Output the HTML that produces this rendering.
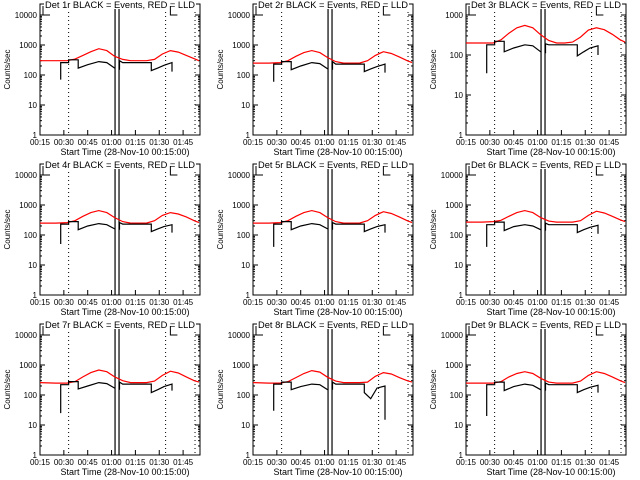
<!DOCTYPE html>
<html><head><meta charset="utf-8">
<style>
html,body{margin:0;padding:0;background:#fff;}
svg{display:block;font-family:"Liberation Sans",sans-serif;}
</style></head>
<body>
<svg id="chart" width="640" height="480" viewBox="0 0 640 480"></svg>
<script>
// ---- data ----
const detectors = ["1r","2r","3r","4r","5r","6r","7r","8r","9r"];
const xTickLabels = ["00:15","00:30","00:45","01:00","01:15","01:30","01:45"];
const xTickMinutes = [0,15,30,45,60,75,90];
const dottedMinutes = [18,79,97.5];
const gapMinutes = [47.2,49.7];
const redTimes = [0,10,17,22,27,32,37,42,47,52,57,62,67,72,77,82,87,92,97,100];
const redValues = [
 [300,300,300,340,450,600,750,650,420,330,300,300,300,330,500,650,580,450,350,300],
 [250,250,260,300,420,560,650,560,380,280,250,250,250,300,450,600,520,400,300,260],
 [200,200,200,240,350,480,550,480,320,230,200,200,210,280,420,480,430,330,240,210],
 [250,250,260,300,420,560,650,560,380,280,250,250,250,300,450,560,500,400,300,260],
 [250,250,260,300,420,560,650,560,380,280,250,250,250,300,450,600,520,400,300,260],
 [270,270,280,310,420,560,650,560,380,290,270,270,270,300,450,620,540,420,320,280],
 [260,250,250,280,400,560,680,600,400,300,260,260,260,290,450,620,540,400,300,270],
 [260,250,250,280,380,520,650,580,390,290,260,260,260,270,420,560,500,380,300,270],
 [250,250,250,280,400,520,600,520,360,270,250,250,250,290,450,600,520,400,300,260]
];
const blackTimes = [13,13,18,18,24,24,30,37,42,47,null,50,50,52,60,70,70,74,78,83,83];
const blackValues = [
 [70,260,260,320,320,170,220,280,260,170,null,150,300,260,260,260,140,170,210,260,130],
 [60,230,230,280,280,150,200,260,240,160,null,150,280,230,230,230,130,160,190,230,120],
 [35,180,180,220,220,120,150,180,170,120,null,110,190,180,180,180,95,120,150,170,100],
 [50,230,230,280,280,150,200,240,220,160,null,150,260,230,230,230,130,160,190,220,120],
 [40,230,230,280,280,150,200,240,220,160,null,150,260,230,230,230,130,160,190,220,120],
 [40,220,220,270,270,140,190,220,200,150,null,140,250,220,220,220,120,150,180,210,110],
 [25,220,220,280,280,160,200,260,240,170,null,150,270,230,230,230,120,150,190,230,140],
 [30,230,230,270,270,150,190,230,220,150,null,150,270,230,230,230,120,75,170,200,15],
 [20,220,220,270,270,140,190,230,210,150,null,140,250,220,220,220,120,150,180,210,120]
];
const yMaxDecades = [4,4,3,4,4,4,4,4,4];

// ---- drawing ----
const NS="http://www.w3.org/2000/svg";
const svg=document.getElementById('chart');
function mk(tag,attrs,parent){const e=document.createElementNS(NS,tag);for(const k in attrs)e.setAttribute(k,attrs[k]);(parent||svg).appendChild(e);return e;}
const PL=40,PR=200,PT=4,PB=135, TMAX=(PR-PL)/1.59;
detectors.forEach((det,i)=>{
  const ox=(i%3)*213, oy=Math.floor(i/3)*160;
  const g=mk('g',{transform:`translate(${ox},${oy})`});
  
  
  const dec=yMaxDecades[i];
  const xs=t=>PL+t*(PR-PL)/TMAX;
  const ys=v=>PB-Math.log10(Math.max(v,1))*(PB-15)/dec;
  // frame
  const fr=mk('rect',{x:PL,y:PT,width:PR-PL,height:PB-PT,fill:'none',stroke:'#000','stroke-width':1},g);
  
  
  // y ticks
  for(let d=0;d<=dec;d++){
    const y=ys(Math.pow(10,d));
    mk('line',{x1:PL,x2:PL+5,y1:y,y2:y,stroke:'#000'},g);
    mk('line',{x1:PR-5,x2:PR,y1:y,y2:y,stroke:'#000'},g);
    if(d<dec)for(let m=2;m<10;m++){const ym=ys(m*Math.pow(10,d));
      mk('line',{x1:PL,x2:PL+2,y1:ym,y2:ym,stroke:'#000'},g);
      mk('line',{x1:PR-2,x2:PR,y1:ym,y2:ym,stroke:'#000'},g);}
    const lb=mk('text',{x:PL-3,y:y+3,'font-size':8,'text-anchor':'end'},g);
    lb.textContent=String(Math.pow(10,d));
    
    
  }
  const yt=mk('text',{x:0,y:0,'font-size':8,'text-anchor':'middle',transform:`translate(10,${(PT+PB)/2}) rotate(-90)`},g);
  yt.textContent='Counts/sec';
  
  
  // x ticks
  xTickMinutes.forEach((m,k)=>{
    const x=xs(m);
    mk('line',{x1:x,x2:x,y1:PB,y2:PB-5,stroke:'#000'},g);
    mk('line',{x1:x,x2:x,y1:PT,y2:PT+5,stroke:'#000'},g);
    const lb=mk('text',{x:x,y:PB+10,'font-size':8,'text-anchor':'middle'},g);
    lb.textContent=xTickLabels[k];
    
    
  });
  const xt=mk('text',{x:(PL+PR)/2+5,y:PB+20,'font-size':9,'text-anchor':'middle'},g);
  xt.textContent='Start Time (28-Nov-10 00:15:00)';
  
  
  // dotted lines
  dottedMinutes.forEach(m=>{const l=mk('line',{x1:xs(m),x2:xs(m),y1:PT,y2:PB,stroke:'#000','stroke-dasharray':'1,3'},g);
    
    });
  // gap lines
  gapMinutes.forEach(m=>{const l=mk('line',{x1:xs(m),x2:xs(m),y1:PT,y2:PB,stroke:'#000','stroke-width':1.2},g);
    
    });
  // title with white backing
  mk('rect',{x:44,y:0,width:152,height:9,fill:'#fff'},g);
  const tt=mk('text',{x:45,y:8,'font-size':9,textLength:150,lengthAdjust:'spacingAndGlyphs'},g);
  tt.textContent=`Det ${det} BLACK = Events, RED = LLD`;
  
  
  // brackets
  [PL+3,xs(82)].forEach(bx=>{mk('path',{d:`M${bx+7},${PT+11} H${bx} V${PT+2}`,fill:'none',stroke:'#000'},g);});
  // red
  const rp=redTimes.map((t,k)=>(k?'L':'M')+xs(t).toFixed(1)+','+ys(redValues[i][k]).toFixed(1)).join(' ');
  const red=mk('path',{d:rp,fill:'none',stroke:'#f00','stroke-width':1.2},g);
  
  
  // black
  let bp='',pen=false;
  blackTimes.forEach((t,k)=>{const v=blackValues[i][k];
    if(t===null||v===null){pen=false;return;}
    bp+=(pen?'L':'M')+xs(t).toFixed(1)+','+ys(v).toFixed(1)+' ';pen=true;});
  const blk=mk('path',{d:bp,fill:'none',stroke:'#000','stroke-width':1.2},g);
  
  
});
</script>
</body></html>
